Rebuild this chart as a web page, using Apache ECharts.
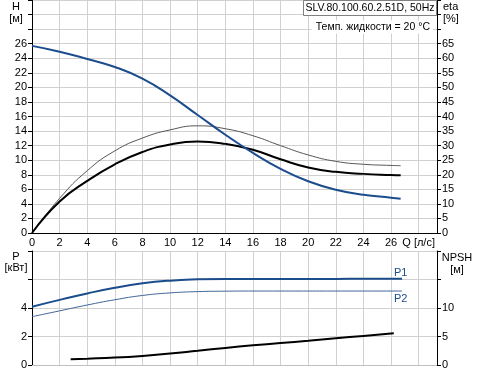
<!DOCTYPE html>
<html><head><meta charset="utf-8">
<script src="https://cdn.jsdelivr.net/npm/echarts@6/dist/echarts.min.js"></script>
<style>html,body{margin:0;padding:0;background:#fff}#c{width:477px;height:374px}</style>
</head><body><div id="c"></div>
<script>
// Q [л/с]
const qMain = [0, 2, 4, 6, 8, 10, 12, 14, 16, 18, 20, 22, 24, 26, 26.7];
const headH = [25.7, 24.9, 23.9, 22.8, 21.2, 18.9, 16.2, 13.5, 11.0, 8.8, 7.1, 5.95, 5.25, 4.85, 4.7];
const etaTotal = [0, 10.8, 17.9, 23.6, 27.8, 30.4, 31.4, 30.6, 28.6, 25.3, 22.5, 21.0, 20.3, 19.9, 19.8];
const etaPump = [0, 11.9, 21.4, 28.2, 32.6, 35.4, 36.8, 35.8, 33.4, 30.0, 26.8, 24.6, 23.6, 23.2, 23.1];
const qPower = [0, 2, 4, 6, 8, 10, 12, 14, 16, 18, 20, 22, 24, 26, 26.8];
const powerP1 = [4.09, 4.57, 5.02, 5.42, 5.73, 5.92, 6.01, 6.04, 6.04, 6.04, 6.04, 6.04, 6.05, 6.05, 6.05];
const powerP2 = [3.39, 3.80, 4.21, 4.58, 4.88, 5.06, 5.15, 5.18, 5.19, 5.19, 5.19, 5.19, 5.19, 5.19, 5.19];
const qNpsh = [2.8, 4, 6, 8, 10, 12, 14, 16, 18, 20, 22, 24, 26.2];
const npsh = [1.0, 1.1, 1.3, 1.6, 2.0, 2.5, 3.0, 3.45, 3.85, 4.25, 4.7, 5.1, 5.56];

const pairs = (xs, ys) => xs.map((x, i) => [x, ys[i]]);
const F = "'Liberation Sans', Arial, sans-serif";
const lab = {color: '#000', fontSize: 11, fontFamily: F};
const gridLine = {show: true, lineStyle: {color: '#d0d0d0', width: 1}};
const QMAX = 29.33;

function curve(name, xi, yi, xs, ys, color, width) {
  return {type: 'line', name, xAxisIndex: xi, yAxisIndex: yi, data: pairs(xs, ys),
    smooth: 0.5, symbol: 'none', lineStyle: {color, width}};
}

const chart = echarts.init(document.getElementById('c'), null, {renderer: 'canvas'});
chart.setOption({
  animation: false,
  backgroundColor: '#fff',
  grid: [
    {left: 32, width: 405, top: 0, height: 233},
    {left: 32, width: 405, top: 251, height: 114}
  ],
  xAxis: [
    {type: 'value', gridIndex: 0, min: 0, max: QMAX, interval: 2,
     axisLine: {show: true, lineStyle: {color: '#000'}}, axisTick: {show: false},
     splitLine: gridLine,
     axisLabel: Object.assign({}, lab, {margin: 4, showMaxLabel: false,
       formatter: v => v === 28 ? 'Q [л/с]' : (v > 28 ? '' : String(v))})},
    {type: 'value', gridIndex: 1, min: 0, max: QMAX, interval: 2,
     axisLine: {show: true, lineStyle: {color: '#c0c0c0'}}, axisTick: {show: false},
     splitLine: gridLine, axisLabel: {show: false}}
  ],
  yAxis: [
    {type: 'value', gridIndex: 0, min: 0, max: 32, interval: 2, position: 'left',
     axisLine: {show: true, lineStyle: {color: '#000'}},
     axisTick: {show: true, length: 4, lineStyle: {color: '#000'}},
     splitLine: gridLine,
     axisLabel: Object.assign({}, lab, {margin: 5, formatter: v => v > 26 ? '' : String(v)})},
    {type: 'value', gridIndex: 0, min: 0, max: 80, interval: 5, position: 'right',
     axisLine: {show: true, lineStyle: {color: '#000'}},
     axisTick: {show: true, length: 4, lineStyle: {color: '#000'}},
     splitLine: {show: false},
     axisLabel: Object.assign({}, lab, {margin: 5, formatter: v => v > 65 ? '' : String(v)})},
    {type: 'value', gridIndex: 1, min: 0, max: 8, interval: 2, position: 'left',
     axisLine: {show: true, lineStyle: {color: '#000'}},
     axisTick: {show: true, length: 4, lineStyle: {color: '#000'}},
     splitLine: gridLine,
     axisLabel: Object.assign({}, lab, {margin: 5, formatter: v => v > 4 ? '' : String(v)})},
    {type: 'value', gridIndex: 1, min: 0, max: 20, interval: 5, position: 'right',
     axisLine: {show: true, lineStyle: {color: '#000'}},
     axisTick: {show: true, length: 4, lineStyle: {color: '#000'}},
     splitLine: {show: false},
     axisLabel: Object.assign({}, lab, {margin: 5, formatter: v => v > 10 ? '' : String(v)})}
  ],
  series: [
    curve('eta pump', 0, 1, qMain, etaPump, '#555', 1),
    curve('eta', 0, 1, qMain, etaTotal, '#000', 2),
    curve('H', 0, 0, qMain, headH, '#1b4c8c', 2),
    curve('P2', 1, 2, qPower, powerP2, '#3f6699', 1),
    curve('P1', 1, 2, qPower, powerP1, '#1b4c8c', 2),
    curve('NPSH', 1, 3, qNpsh, npsh, '#000', 2)
  ],
  graphic: [
    {type: 'rect', shape: {x: 303.5, y: 0.5, width: 133, height: 15},
     style: {fill: '#fff', stroke: '#808080', lineWidth: 1}, z: 100},
    {type: 'text', x: 370, y: 8, z: 101,
     style: {text: 'SLV.80.100.60.2.51D, 50Hz', fill: '#000', font: '10.5px ' + F, align: 'center', verticalAlign: 'middle'}},
    {type: 'text', x: 433, y: 27, z: 101,
     style: {text: 'Темп. жидкости = 20 °C', fill: '#000', font: '10.5px ' + F, align: 'right', verticalAlign: 'middle',
             backgroundColor: '#fff', padding: [1, 3, 1, 4]}},
    {type: 'text', x: 16, y: 7, style: {text: 'H', fill: '#000', font: '11px ' + F, align: 'center', verticalAlign: 'middle'}},
    {type: 'text', x: 16, y: 19, style: {text: '[м]', fill: '#000', font: '11px ' + F, align: 'center', verticalAlign: 'middle'}},
    {type: 'text', x: 443, y: 7, style: {text: 'eta', fill: '#000', font: '11px ' + F, align: 'left', verticalAlign: 'middle'}},
    {type: 'text', x: 443, y: 19, style: {text: '[%]', fill: '#000', font: '11px ' + F, align: 'left', verticalAlign: 'middle'}},
    {type: 'text', x: 16, y: 257, style: {text: 'P', fill: '#000', font: '11px ' + F, align: 'center', verticalAlign: 'middle'}},
    {type: 'text', x: 16, y: 268, style: {text: '[кВт]', fill: '#000', font: '11px ' + F, align: 'center', verticalAlign: 'middle'}},
    {type: 'text', x: 457, y: 258, style: {text: 'NPSH', fill: '#000', font: '11px ' + F, align: 'center', verticalAlign: 'middle'}},
    {type: 'text', x: 457, y: 270, style: {text: '[м]', fill: '#000', font: '11px ' + F, align: 'center', verticalAlign: 'middle'}},
    {type: 'text', x: 394, y: 273, style: {text: 'P1', fill: '#1b4c8c', font: '11px ' + F, align: 'left', verticalAlign: 'middle'}},
    {type: 'text', x: 394, y: 299, style: {text: 'P2', fill: '#1b4c8c', font: '11px ' + F, align: 'left', verticalAlign: 'middle'}}
  ]
});
</script></body></html>
